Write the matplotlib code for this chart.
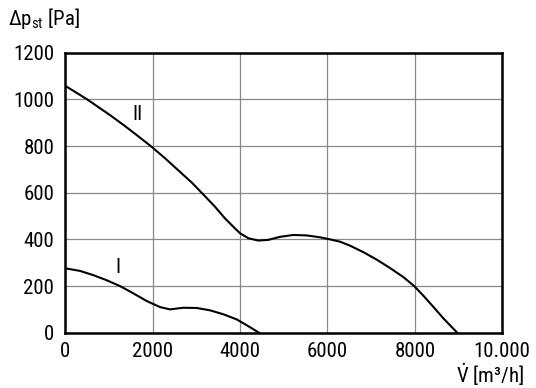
import matplotlib
matplotlib.use("Agg")
import matplotlib.pyplot as plt
from matplotlib import font_manager

# Data
curve2_x = [0, 500, 1020, 1363, 1668, 1974, 2280, 2585, 2891, 3196, 3425, 3654, 3883, 4000, 4188, 4417, 4646, 4914, 5219, 5525, 5830, 6060, 6289, 6518, 6823, 7129, 7434, 7740, 7984, 8198, 8427, 8655, 8970]
curve2_y = [1058, 1000, 933, 886, 842, 797, 748, 696, 644, 585, 540, 490, 447, 426, 405, 395, 398, 411, 419, 417, 409, 400, 390, 373, 345, 313, 277, 238, 200, 158, 110, 61, 0]
curve1_x = [0, 332, 637, 944, 1249, 1553, 1860, 2165, 2394, 2699, 3005, 3310, 3616, 3922, 4188, 4430]
curve1_y = [276, 265, 247, 225, 200, 169, 136, 110, 100, 107, 106, 96, 79, 57, 28, 0]
x_ticks = [0, 2000, 4000, 6000, 8000, 10000]
x_tick_labels = ["0", "2000", "4000", "6000", "8000", "10.000"]
y_ticks = [0, 200, 400, 600, 800, 1000, 1200]
curve_labels = ["II", "I"]
label_pos_x = [1660, 1200]
label_pos_y = [934, 281]

names = {f.name for f in font_manager.fontManager.ttflist}
fam = [f for f in ["Roboto Condensed", "Archivo Narrow", "PT Sans Narrow", "Roboto", "DejaVu Sans"] if f in names]
plt.rcParams['font.family'] = fam
plt.rcParams['mathtext.fontset'] = 'custom'
plt.rcParams['mathtext.rm'] = fam[0]
plt.rcParams['mathtext.it'] = fam[0]

fig = plt.figure(figsize=(5.36, 3.88), dpi=100)
ax = fig.add_axes([0.122, 0.1425, 0.815, 0.7215])

ax.plot(curve2_x, curve2_y, color='black', lw=1.5, solid_joinstyle='round')
ax.plot(curve1_x, curve1_y, color='black', lw=1.5, solid_joinstyle='round')

for t, lx, ly in zip(curve_labels, label_pos_x, label_pos_y):
    ax.text(lx, ly, t, fontsize=15, ha='center', va='center')

ax.set_xlim(0, 10000)
ax.set_ylim(0, 1200)
ax.set_xticks(x_ticks)
ax.set_xticklabels(x_tick_labels)
ax.set_yticks(y_ticks)
ax.grid(True, color='#888888', lw=0.9)
ax.set_axisbelow(True)
ax.tick_params(axis='y', length=0, labelsize=15, pad=8)
ax.tick_params(axis='x', length=0, labelsize=15, pad=6.5)
for s in ax.spines.values():
    s.set_linewidth(1.8)
    s.set_color('black')

fig.text(0.015, 0.953, r"Δp$_\mathregular{st}$ [Pa]", fontsize=15, ha='left', va='center')
fig.text(0.977, 0.0, r"$\dot{\mathrm{V}}$ [m³/h]", fontsize=15, ha='right', va='bottom')

fig.savefig("out.png", dpi=100)
